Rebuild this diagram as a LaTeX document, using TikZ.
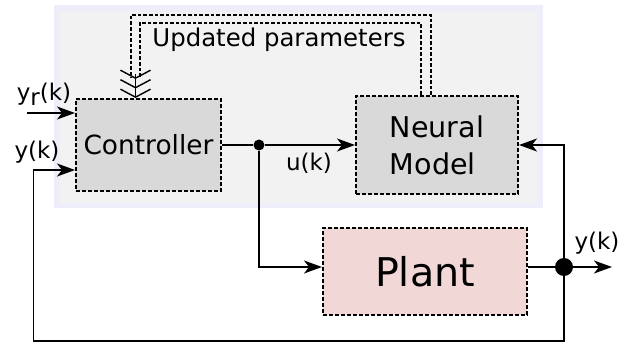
\documentclass[tikz,border=0pt]{standalone}
\usepackage{fontspec}
\setmainfont{DejaVu Sans}
\usetikzlibrary{arrows.meta,positioning,calc}
\definecolor{panelgray}{HTML}{F2F2F2}
\definecolor{panelrim}{HTML}{EEEEFB}
\definecolor{boxgray}{HTML}{D9D9D9}
\definecolor{plantpink}{HTML}{F2D7D7}

\begin{document}
\begin{tikzpicture}[x=0.5pt,y=-0.5pt,
		>={Stealth[length=9pt,width=6.5pt,inset=2.5pt]},
		block/.style={draw,line width=1pt,dash pattern=on 2pt off 1pt,fill=boxgray,inner sep=0pt},
		wire/.style={line width=0.75pt},
		param/.style={line width=0.65pt,dash pattern=on 1.8pt off 1pt},
		sig/.style={font=\fontsize{11.5}{13}\selectfont},
		junc/.style={circle,fill=black,inner sep=0pt,minimum size=#1}]
		\useasboundingbox (0,0) rectangle (633,347);
		% shaded area round controller and model
		\fill[panelrim] (54,5) rectangle (543,208);
		\fill[panelgray] (60,12) rectangle (537,203);
		\node[block,minimum width=72.5pt,minimum height=46pt,font=\fontsize{13.2}{15}\selectfont] (ctrl) at (148.5,145) {Controller};
		\node[block,minimum width=81pt,minimum height=49pt,align=left,font=\fontsize{14.3}{18.5}\selectfont] (nm) at (437,145) {Neural\\Model};
		\node[block,fill=plantpink,minimum width=102pt,minimum height=43.5pt,font=\fontsize{19.8}{22}\selectfont] (plant) at (425,271.5) {Plant};
		\node[junc=5.5pt] (udot) at (259,145) {};
		\node[junc=9pt] (odot) at (564,267) {};
		\node[font=\fontsize{12.2}{14}\selectfont] (uplab) at (279,40) {Updated parameters};
		\node[sig] (yrlab) at (44,94) {y\raisebox{-0.22em}{r}(k)};
		\node[sig] (ylab) at (37,152) {y(k)};
		\node[sig] (ulab) at (309,163) {u(k)};
		\node[sig] (yolab) at (597,243) {y(k)};
		\coordinate (yr) at (27,113);
		\coordinate (yend) at (612,267);
		\coordinate (bl) at (33.5,341);
		\coordinate (yin) at (33.5,170);
		\coordinate (pout) at (431,15);
		\coordinate (pin) at (421,23);
		\coordinate (chev) at (135.5,74);
		% updated parameters (double dashed)
		\draw[param] (nm.north -| pout) -- (pout) -| (131,78);
		\draw[param] (nm.north -| pin) -- (pin) -| (140,78);
		\draw[line width=0.7pt,-{Straight Barb[length=4pt,width=15pt] Straight Barb[length=4pt,width=15pt] Straight Barb[length=4pt,width=15pt]}] (chev) -- (chev |- ctrl.north);
		% signals
		\draw[wire,->] (yr) -- (yr -| ctrl.west);
		\draw[wire] (ctrl.east) -- (udot);
		\draw[wire,->] (udot) -- (nm.west);
		\draw[wire,->] (udot) |- (odot -| plant.west);
		\draw[wire] (odot -| plant.east) -- (odot);
		\draw[wire,->] (odot) -- (yend);
		\draw[wire,->] (odot) -- (odot |- nm.east) -- (nm.east);
		\draw[wire,->] (odot) |- (bl) -- (yin) -- (yin -| ctrl.west);
	\end{tikzpicture}
\end{document}
